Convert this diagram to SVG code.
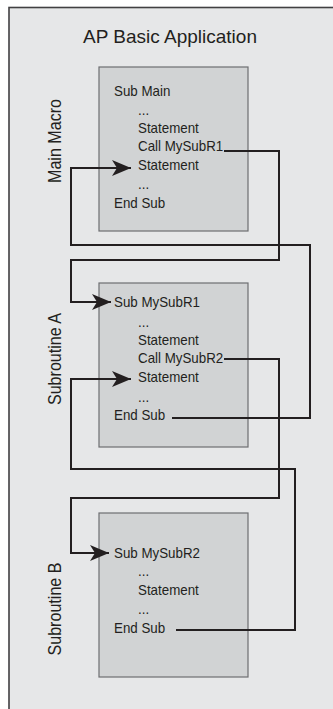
<svg xmlns="http://www.w3.org/2000/svg" width="333" height="709" viewBox="0 0 333 709">
<style>
.frame{fill:#e6e7e8;stroke:#414042;stroke-width:1.6}
.box{fill:#d1d3d4;stroke:#6d6e71;stroke-width:1.2}
.t{font-family:"Liberation Sans",Arial,sans-serif;font-size:14.5px;fill:#231f20}
.title{font-family:"Liberation Sans",Arial,sans-serif;font-size:19px;fill:#231f20;text-anchor:middle}
.side{font-family:"Liberation Sans",Arial,sans-serif;font-size:18.5px;fill:#231f20;text-anchor:middle}
.ln{fill:none;stroke:#231f20;stroke-width:2}
</style>
<defs>
<marker id="ah" markerUnits="userSpaceOnUse" markerWidth="22" markerHeight="18" viewBox="-20 -9 22 18" refX="0" refY="0" orient="auto">
<path d="M0,0 L-19,-8 L-14,0 L-19,8 Z" fill="#231f20"/>
</marker>
</defs>
<rect class="frame" x="9" y="7.5" width="340" height="720"/>
<text class="title" x="170" y="43">AP Basic Application</text>
<g id="main">
<rect class="box" x="99" y="67" width="149" height="164"/>
<text class="side" transform="translate(61,141) rotate(-90) scale(0.87,1)">Main Macro</text>
<text class="t" transform="matrix(0.92 0 0 1 114 96)">Sub Main</text>
<text class="t" transform="matrix(0.92 0 0 1 138 115)">...</text>
<text class="t" transform="matrix(0.92 0 0 1 138 133)">Statement</text>
<text class="t" transform="matrix(0.92 0 0 1 138 151)">Call MySubR1</text>
<text class="t" transform="matrix(0.92 0 0 1 138 170)">Statement</text>
<text class="t" transform="matrix(0.92 0 0 1 138 189)">...</text>
<text class="t" transform="matrix(0.92 0 0 1 114 208)">End Sub</text>
</g>
<g id="subA">
<rect class="box" x="99" y="283" width="149" height="164"/>
<text class="side" transform="translate(61,359) rotate(-90) scale(0.87,1)">Subroutine A</text>
<text class="t" transform="matrix(0.92 0 0 1 114 307)">Sub MySubR1</text>
<text class="t" transform="matrix(0.92 0 0 1 138 327)">...</text>
<text class="t" transform="matrix(0.92 0 0 1 138 345)">Statement</text>
<text class="t" transform="matrix(0.92 0 0 1 138 363)">Call MySubR2</text>
<text class="t" transform="matrix(0.92 0 0 1 138 382)">Statement</text>
<text class="t" transform="matrix(0.92 0 0 1 138 402)">...</text>
<text class="t" transform="matrix(0.92 0 0 1 114 420)">End Sub</text>
</g>
<g id="subB">
<rect class="box" x="99" y="513" width="149" height="164"/>
<text class="side" transform="translate(61,609) rotate(-90) scale(0.87,1)">Subroutine B</text>
<text class="t" transform="matrix(0.92 0 0 1 114 558)">Sub MySubR2</text>
<text class="t" transform="matrix(0.92 0 0 1 138 576)">...</text>
<text class="t" transform="matrix(0.92 0 0 1 138 595)">Statement</text>
<text class="t" transform="matrix(0.92 0 0 1 138 614)">...</text>
<text class="t" transform="matrix(0.92 0 0 1 114 633)">End Sub</text>
</g>
<g id="connectors">
<path class="ln" marker-end="url(#ah)" d="M224,151 H279 V260 H71 V302 H111"/>
<path class="ln" marker-end="url(#ah)" d="M172,418 H310 V245 H71 V168 H131"/>
<path class="ln" marker-end="url(#ah)" d="M224,359 H279 V498 H71 V553 H109"/>
<path class="ln" marker-end="url(#ah)" d="M176,630 H295 V469 H71 V379 H131"/>
</g>
</svg>
